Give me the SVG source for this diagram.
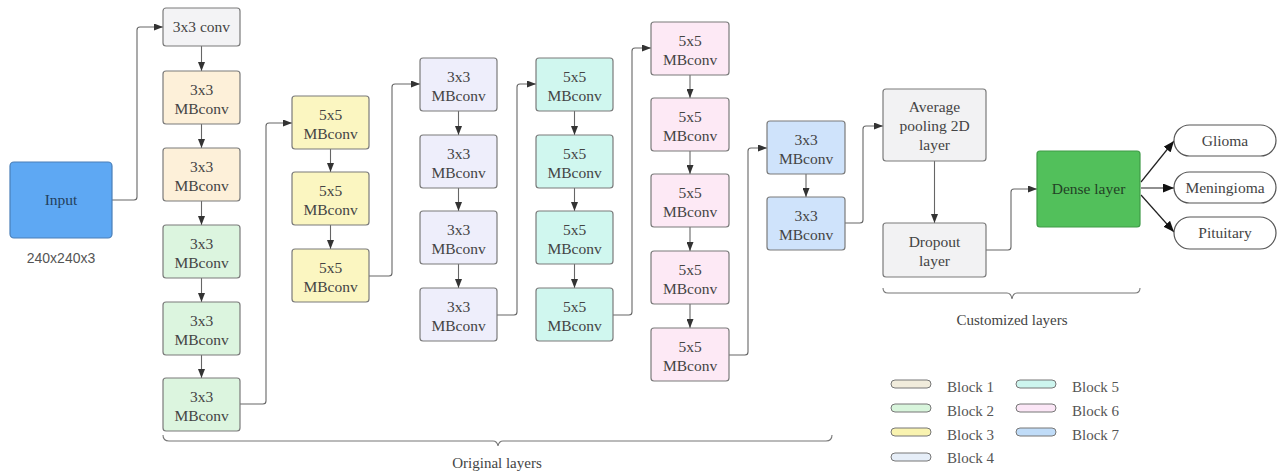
<svg xmlns="http://www.w3.org/2000/svg" width="1284" height="474" viewBox="0 0 1284 474">
  <style>
    .box { stroke: #7b7b7b; stroke-width: 1.2; }
    .lbl { font-family: "Liberation Serif", "Times New Roman", serif; font-size: 15.5px; fill: #444; text-anchor: middle; }
    .sans { font-family: "Liberation Sans", Arial, sans-serif; font-size: 14px; fill: #555; text-anchor: middle; }
    .leg { font-family: "Liberation Serif", "Times New Roman", serif; font-size: 15px; fill: #555; }
    .conn { fill: none; stroke: #666; stroke-width: 1.1; }
    .out { fill: none; stroke: #222; stroke-width: 1.2; }
    .brace { fill: none; stroke: #777; stroke-width: 1.1; }
    .b0 { fill: #f3f3f5; }
    .b1 { fill: #fdf0d9; }
    .b2 { fill: #dcf5df; }
    .b3 { fill: #fbf6c1; }
    .b4 { fill: #eeeefb; }
    .b5 { fill: #d0f7ef; }
    .b6 { fill: #fde9f5; }
    .b7 { fill: #cfe3fb; }
    .cg { fill: #f2f2f3; }
  </style>
  <defs>
    <marker id="arr" markerUnits="userSpaceOnUse" markerWidth="9" markerHeight="7" refX="9" refY="3.5" orient="auto">
      <path d="M0,0 L9,3.5 L0,7 z" fill="#333"/>
    </marker>
    <marker id="arrBig" markerUnits="userSpaceOnUse" markerWidth="11" markerHeight="9" refX="11" refY="4.5" orient="auto">
      <path d="M0,0 L11,4.5 L0,9 z" fill="#111"/>
    </marker>
  </defs>
  <rect width="1284" height="474" fill="#ffffff"/>

  <!-- connectors -->
  <g id="connectors">
    <path class="conn" marker-end="url(#arr)" d="M112,200 H134 Q137,200 137,197 V30 Q137,27 140,27 H163"/>
    <path class="conn" marker-end="url(#arr)" d="M201.5,46 V71"/>
    <path class="conn" marker-end="url(#arr)" d="M201.5,124 V148"/>
    <path class="conn" marker-end="url(#arr)" d="M201.5,201 V225"/>
    <path class="conn" marker-end="url(#arr)" d="M201.5,278 V302"/>
    <path class="conn" marker-end="url(#arr)" d="M201.5,355 V378"/>
    <path class="conn" marker-end="url(#arr)" d="M240,404 H263 Q266,404 266,401 V126 Q266,123 269,123 H292"/>
    <path class="conn" marker-end="url(#arr)" d="M330.5,149 V172"/>
    <path class="conn" marker-end="url(#arr)" d="M330.5,225 V249"/>
    <path class="conn" marker-end="url(#arr)" d="M369,276 H389 Q392,276 392,273 V87 Q392,84 395,84 H420"/>
    <path class="conn" marker-end="url(#arr)" d="M458.5,111 V135"/>
    <path class="conn" marker-end="url(#arr)" d="M458.5,188 V211"/>
    <path class="conn" marker-end="url(#arr)" d="M458.5,264 V288"/>
    <path class="conn" marker-end="url(#arr)" d="M497,315 H514 Q517,315 517,312 V87 Q517,84 520,84 H536"/>
    <path class="conn" marker-end="url(#arr)" d="M574.5,111 V135"/>
    <path class="conn" marker-end="url(#arr)" d="M574.5,188 V211"/>
    <path class="conn" marker-end="url(#arr)" d="M574.5,264 V288"/>
    <path class="conn" marker-end="url(#arr)" d="M613,315 H629 Q632,315 632,312 V51 Q632,48 635,48 H651"/>
    <path class="conn" marker-end="url(#arr)" d="M690,75 V98"/>
    <path class="conn" marker-end="url(#arr)" d="M690,151 V174"/>
    <path class="conn" marker-end="url(#arr)" d="M690,227 V251"/>
    <path class="conn" marker-end="url(#arr)" d="M690,304 V328"/>
    <path class="conn" marker-end="url(#arr)" d="M729,355 H745 Q748,355 748,352 V151 Q748,148 751,148 H767"/>
    <path class="conn" marker-end="url(#arr)" d="M806,174 V197"/>
    <path class="conn" marker-end="url(#arr)" d="M845,223 H860 Q863,223 863,220 V129 Q863,126 866,126 H883"/>
    <path class="conn" marker-end="url(#arr)" d="M934.5,161 V223"/>
    <path class="conn" marker-end="url(#arr)" d="M986,250 H1008 Q1011,250 1011,247 V192 Q1011,189 1014,189 H1037"/>
    <path class="out" marker-end="url(#arrBig)" d="M1141,182 L1174,141"/>
    <path class="out" marker-end="url(#arrBig)" d="M1141,188 L1174,188"/>
    <path class="out" marker-end="url(#arrBig)" d="M1141,195 L1174,232"/>
  </g>

  <!-- input -->
  <g id="input">
    <rect x="10" y="162" width="102" height="76" rx="4" fill="#5ea8f3" stroke="#4a7fb8" stroke-width="1.2"/>
    <text class="lbl" x="61" y="205" style="fill:#23405c">Input</text>
    <text class="sans" x="61" y="263">240x240x3</text>
  </g>

  <!-- stem -->
  <g id="stem-conv">
    <rect class="box b0" x="163" y="8" width="77" height="38" rx="3"/>
    <text class="lbl" x="201.5" y="32">3x3 conv</text>
  </g>

  <!-- block 1 -->
  <g id="b1-1"><rect class="box b1" x="163" y="71" width="77" height="53" rx="3"/>
    <text class="lbl" x="201.5" y="95">3x3</text><text class="lbl" x="201.5" y="114">MBconv</text></g>
  <g id="b1-2"><rect class="box b1" x="163" y="148" width="77" height="53" rx="3"/>
    <text class="lbl" x="201.5" y="172">3x3</text><text class="lbl" x="201.5" y="191">MBconv</text></g>

  <!-- block 2 -->
  <g id="b2-1"><rect class="box b2" x="163" y="225" width="77" height="53" rx="3"/>
    <text class="lbl" x="201.5" y="249">3x3</text><text class="lbl" x="201.5" y="268">MBconv</text></g>
  <g id="b2-2"><rect class="box b2" x="163" y="302" width="77" height="53" rx="3"/>
    <text class="lbl" x="201.5" y="326">3x3</text><text class="lbl" x="201.5" y="345">MBconv</text></g>
  <g id="b2-3"><rect class="box b2" x="163" y="378" width="77" height="53" rx="3"/>
    <text class="lbl" x="201.5" y="402">3x3</text><text class="lbl" x="201.5" y="421">MBconv</text></g>

  <!-- block 3 -->
  <g id="b3-1"><rect class="box b3" x="292" y="96" width="77" height="53" rx="3"/>
    <text class="lbl" x="330.5" y="120">5x5</text><text class="lbl" x="330.5" y="139">MBconv</text></g>
  <g id="b3-2"><rect class="box b3" x="292" y="172" width="77" height="53" rx="3"/>
    <text class="lbl" x="330.5" y="196">5x5</text><text class="lbl" x="330.5" y="215">MBconv</text></g>
  <g id="b3-3"><rect class="box b3" x="292" y="249" width="77" height="53" rx="3"/>
    <text class="lbl" x="330.5" y="273">5x5</text><text class="lbl" x="330.5" y="292">MBconv</text></g>

  <!-- block 4 -->
  <g id="b4-1"><rect class="box b4" x="420" y="58" width="77" height="53" rx="3"/>
    <text class="lbl" x="458.5" y="82">3x3</text><text class="lbl" x="458.5" y="101">MBconv</text></g>
  <g id="b4-2"><rect class="box b4" x="420" y="135" width="77" height="53" rx="3"/>
    <text class="lbl" x="458.5" y="159">3x3</text><text class="lbl" x="458.5" y="178">MBconv</text></g>
  <g id="b4-3"><rect class="box b4" x="420" y="211" width="77" height="53" rx="3"/>
    <text class="lbl" x="458.5" y="235">3x3</text><text class="lbl" x="458.5" y="254">MBconv</text></g>
  <g id="b4-4"><rect class="box b4" x="420" y="288" width="77" height="53" rx="3"/>
    <text class="lbl" x="458.5" y="312">3x3</text><text class="lbl" x="458.5" y="331">MBconv</text></g>

  <!-- block 5 -->
  <g id="b5-1"><rect class="box b5" x="536" y="58" width="77" height="53" rx="3"/>
    <text class="lbl" x="574.5" y="82">5x5</text><text class="lbl" x="574.5" y="101">MBconv</text></g>
  <g id="b5-2"><rect class="box b5" x="536" y="135" width="77" height="53" rx="3"/>
    <text class="lbl" x="574.5" y="159">5x5</text><text class="lbl" x="574.5" y="178">MBconv</text></g>
  <g id="b5-3"><rect class="box b5" x="536" y="211" width="77" height="53" rx="3"/>
    <text class="lbl" x="574.5" y="235">5x5</text><text class="lbl" x="574.5" y="254">MBconv</text></g>
  <g id="b5-4"><rect class="box b5" x="536" y="288" width="77" height="53" rx="3"/>
    <text class="lbl" x="574.5" y="312">5x5</text><text class="lbl" x="574.5" y="331">MBconv</text></g>

  <!-- block 6 -->
  <g id="b6-1"><rect class="box b6" x="651" y="22" width="78" height="53" rx="3"/>
    <text class="lbl" x="690" y="46">5x5</text><text class="lbl" x="690" y="65">MBconv</text></g>
  <g id="b6-2"><rect class="box b6" x="651" y="98" width="78" height="53" rx="3"/>
    <text class="lbl" x="690" y="122">5x5</text><text class="lbl" x="690" y="141">MBconv</text></g>
  <g id="b6-3"><rect class="box b6" x="651" y="174" width="78" height="53" rx="3"/>
    <text class="lbl" x="690" y="198">5x5</text><text class="lbl" x="690" y="217">MBconv</text></g>
  <g id="b6-4"><rect class="box b6" x="651" y="251" width="78" height="53" rx="3"/>
    <text class="lbl" x="690" y="275">5x5</text><text class="lbl" x="690" y="294">MBconv</text></g>
  <g id="b6-5"><rect class="box b6" x="651" y="328" width="78" height="53" rx="3"/>
    <text class="lbl" x="690" y="352">5x5</text><text class="lbl" x="690" y="371">MBconv</text></g>

  <!-- block 7 -->
  <g id="b7-1"><rect class="box b7" x="767" y="121" width="78" height="53" rx="3"/>
    <text class="lbl" x="806" y="145">3x3</text><text class="lbl" x="806" y="164">MBconv</text></g>
  <g id="b7-2"><rect class="box b7" x="767" y="197" width="78" height="53" rx="3"/>
    <text class="lbl" x="806" y="221">3x3</text><text class="lbl" x="806" y="240">MBconv</text></g>

  <!-- customized head -->
  <g id="avgpool"><rect class="box cg" x="883" y="89" width="103" height="72" rx="3"/>
    <text class="lbl" x="934.5" y="112">Average</text>
    <text class="lbl" x="934.5" y="131">pooling 2D</text>
    <text class="lbl" x="934.5" y="150">layer</text></g>
  <g id="dropout"><rect class="box cg" x="883" y="223" width="103" height="54" rx="3"/>
    <text class="lbl" x="934.5" y="247">Dropout</text>
    <text class="lbl" x="934.5" y="266">layer</text></g>
  <g id="dense"><rect x="1037" y="151" width="103" height="76" rx="3" fill="#52c05b" stroke="#3f9a47" stroke-width="1.2"/>
    <text class="lbl" x="1088.5" y="194" style="fill:#234226">Dense layer</text></g>

  <!-- outputs -->
  <g id="glioma"><rect x="1174" y="125" width="102" height="31" rx="15.5" fill="#fff" stroke="#555" stroke-width="1.2"/>
    <text class="lbl" x="1225" y="146">Glioma</text></g>
  <g id="meningioma"><rect x="1174" y="172" width="102" height="31" rx="15.5" fill="#fff" stroke="#555" stroke-width="1.2"/>
    <text class="lbl" x="1225" y="193">Meningioma</text></g>
  <g id="pituitary"><rect x="1174" y="217" width="102" height="32" rx="16" fill="#fff" stroke="#555" stroke-width="1.2"/>
    <text class="lbl" x="1225" y="238">Pituitary</text></g>

  <!-- braces -->
  <g id="brace-original">
    <path class="brace" d="M163,435 Q163,441 169,441 H493 Q497,441 498,446 Q499,441 503,441 H826 Q832,441 832,435"/>
    <text class="lbl" x="497" y="468" style="font-size:15px">Original layers</text>
  </g>
  <g id="brace-custom">
    <path class="brace" d="M883,288 Q883,293 888,293 H1007 Q1011,293 1012,299 Q1013,293 1017,293 H1135 Q1140,293 1140,288"/>
    <text class="lbl" x="1012" y="325" style="font-size:15px">Customized layers</text>
  </g>

  <!-- legend -->
  <g id="legend">
    <rect x="891" y="380" width="40" height="8" rx="4" fill="#f1ecdc" stroke="#777"/>
    <text class="leg" x="947" y="392">Block 1</text>
    <rect x="891" y="404" width="40" height="8" rx="4" fill="#d8f5dc" stroke="#777"/>
    <text class="leg" x="947" y="416">Block 2</text>
    <rect x="891" y="428" width="40" height="8" rx="4" fill="#f9f3b0" stroke="#777"/>
    <text class="leg" x="947" y="440">Block 3</text>
    <rect x="891" y="453" width="40" height="8" rx="4" fill="#e6eef8" stroke="#777"/>
    <text class="leg" x="947" y="463">Block 4</text>
    <rect x="1016" y="380" width="40" height="8" rx="4" fill="#cdf5ee" stroke="#777"/>
    <text class="leg" x="1072" y="392">Block 5</text>
    <rect x="1016" y="404" width="40" height="8" rx="4" fill="#fbe6f6" stroke="#777"/>
    <text class="leg" x="1072" y="416">Block 6</text>
    <rect x="1016" y="428" width="40" height="8" rx="4" fill="#c0dcf8" stroke="#777"/>
    <text class="leg" x="1072" y="440">Block 7</text>
  </g>
</svg>
